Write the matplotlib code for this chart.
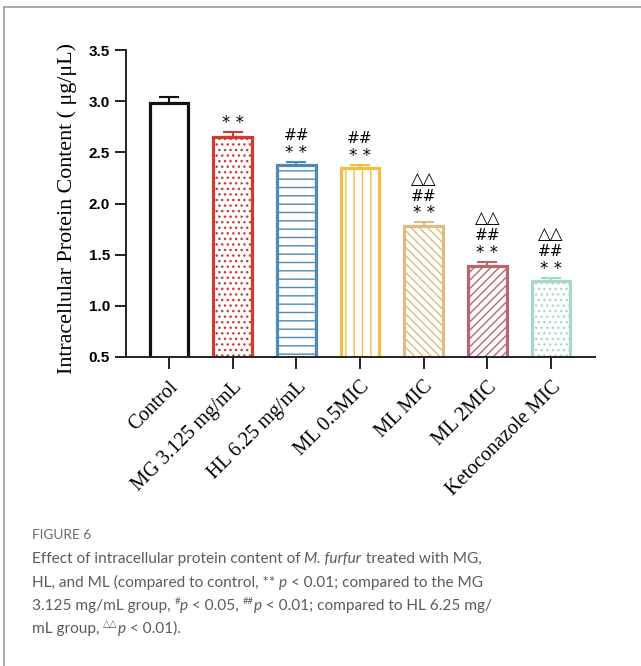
import numpy as np
import matplotlib
matplotlib.use("Agg")
import matplotlib.pyplot as plt
from matplotlib.lines import Line2D


# data
groups = ["Control", "MG 3.125 mg/mL", "HL 6.25 mg/mL", "ML 0.5MIC",
          "ML MIC", "ML 2MIC", "Ketoconazole MIC"]
protein = [2.98, 2.65, 2.38, 2.35, 1.78, 1.39, 1.24]
protein_sd = [0.06, 0.05, 0.03, 0.03, 0.035, 0.04, 0.03]
sig_ctrl = ["", "* *", "* *", "* *", "* *", "* *", "* *"]
sig_mg = ["", "", "##", "##", "##", "##", "##"]
sig_hl = ["", "", "", "", "△△", "△△", "△△"]

colors = ["#111111", "#cf3a31", "#4f88ba", "#f3bd40", "#dcbc82", "#b9676e", "#a8d8cd"]
hatches = [None, "...", "--", "||", "\\\\\\\\", "////", "..."]


fig = plt.figure(figsize=(6.41, 6.66), dpi=100)
W, H = 641, 666

ax = fig.add_axes([126 / W, 1 - 357 / H, 469 / W, 307 / H])
x = np.arange(len(groups))

for i in range(len(groups)):
    ax.bar(x[i], protein[i], bottom=0, width=0.61, color="white",
           edgecolor=colors[i], linewidth=2.3, hatch=hatches[i], zorder=2)
    ax.errorbar(x[i], protein[i], yerr=[[0], [protein_sd[i]]], fmt="none",
                ecolor=colors[i], elinewidth=1.5, capsize=7, capthick=1.5, zorder=3)

# significance marks stacked over each bar
for i in range(len(groups)):
    top = protein[i] + protein_sd[i]
    for txt, off, fs in [(sig_ctrl[i], 6.5, 12), (sig_mg[i], 19, 11), (sig_hl[i], 31.5, 12)]:
        if txt:
            ax.annotate(txt, xy=(x[i], top), xytext=(0, off), textcoords="offset points",
                        ha="center", va="center", fontsize=fs, color="black",
                        family=["DejaVu Sans"])

ax.set_xlim(-0.675, 6.69)
ax.set_ylim(0.5, 3.5)
ax.set_yticks([0.5, 1.0, 1.5, 2.0, 2.5, 3.0, 3.5])
ax.set_yticklabels(["0.5", "1.0", "1.5", "2.0", "2.5", "3.0", "3.5"],
                   fontsize=11, fontweight="bold", family="Liberation Sans")
ax.set_xticks(x)
ax.set_xticklabels(groups, rotation=45, ha="right", rotation_mode="anchor",
                   fontsize=14.5, family="Liberation Serif")

for side in ["top", "right"]:
    ax.spines[side].set_visible(False)
for side in ["left", "bottom"]:
    ax.spines[side].set_linewidth(1.4)
    ax.spines[side].set_color("#222222")
ax.tick_params(axis="y", length=8, width=1.4, color="#222222", pad=3.5)
ax.tick_params(axis="x", length=8.6, width=1.4, color="#222222", pad=6)

ax.set_ylabel("Intracellular Protein Content ( μg/μL)", fontsize=15.8,
              family="Liberation Serif")
ax.yaxis.set_label_coords(-0.105, 0.485)

# frame lines of the figure panel
fig.add_artist(Line2D([4 / W, 4 / W], [0, 1 - 7 / H], transform=fig.transFigure,
                      color="#9a9a9a", linewidth=1.2))
fig.add_artist(Line2D([4 / W, 1], [1 - 7 / H, 1 - 7 / H], transform=fig.transFigure,
                      color="#9a9a9a", linewidth=1.2))

# caption
renderer = fig.canvas.get_renderer()
cap_color = "#5c5c5c"
cap_font = ["Lato", "DejaVu Sans"]


def text_width(s, **kw):
    t = fig.text(0, 0, "l" + s + "l", **kw)
    w = t.get_window_extent(renderer).width
    t.remove()
    t = fig.text(0, 0, "ll", **kw)
    w -= t.get_window_extent(renderer).width
    t.remove()
    return w


def draw_runs(x0, y0, runs, size):
    # runs: (text, style, superscript)
    px = x0
    for s, style, sup in runs:
        fs = size * 0.62 if sup else size
        dy = 6 if sup else 0
        kw = dict(fontsize=fs, style=style, family=cap_font, color=cap_color)
        fig.text(px / W, 1 - (y0 - dy) / H, s, ha="left", va="baseline", **kw)
        px += text_width(s, **kw)


fig.text(32 / W, 1 - 539 / H, "FIGURE 6", fontsize=9.8, family=cap_font,
         color="#6a6a6a", ha="left", va="baseline")

cap_size = 11.1
lines = [
    [("Effect of intracellular protein content of ", "normal", False),
     ("M. furfur", "italic", False),
     (" treated with MG,", "normal", False)],
    [("HL, and ML (compared to control, ** ", "normal", False),
     ("p", "italic", False),
     (" < 0.01; compared to the MG", "normal", False)],
    [("3.125 mg/mL group, ", "normal", False),
     ("#", "normal", True),
     ("p", "italic", False),
     (" < 0.05, ", "normal", False),
     ("##", "normal", True),
     ("p", "italic", False),
     (" < 0.01; compared to HL 6.25 mg/", "normal", False)],
    [("mL group, ", "normal", False),
     ("△△", "normal", True),
     ("p", "italic", False),
     (" < 0.01).", "normal", False)],
]
for k, runs in enumerate(lines):
    draw_runs(32, 563.3 + 23.3 * k, runs, cap_size)

fig.savefig("out.png", dpi=100)
